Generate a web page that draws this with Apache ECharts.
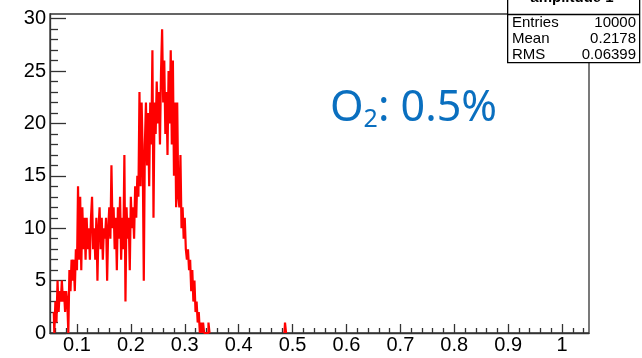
<!DOCTYPE html>
<html>
<head>
<meta charset="utf-8">
<script src="https://cdn.jsdelivr.net/npm/echarts@6/dist/echarts.min.js"></script>
<style>
  html, body { margin: 0; padding: 0; background: #fff; }
  #chart { width: 642px; height: 358px; }
</style>
</head>
<body>
<div id="chart"></div>
<script>
// histogram "amplitude 1": bin centres start at firstBin, one count per bin
var firstBin = 0.057;
var binWidth = 0.002;
var counts = [
  2, 0, 3, 1, 5, 2, 4, 3, 5, 3, 4, 2, 4, 3, 0, 6, 4, 7, 5, 7,
  4, 8, 6, 14, 7, 13, 6, 12, 8, 11, 7, 11, 8, 10, 7, 11, 13, 8, 10, 7,
  11, 5, 10, 12, 8, 11, 7, 10, 9, 11, 5, 10, 12, 9, 16, 10, 12, 8, 11, 6,
  12, 9, 13, 7, 11, 8, 17, 3, 12, 9, 11, 6, 13, 10, 12, 9, 14, 11, 15, 13,
  23, 14, 22, 17, 5, 18, 22, 16, 21, 14, 22, 18, 27, 11, 22, 19, 24, 20, 23, 18,
  25, 29, 22, 26, 19, 23, 17, 25, 20, 27, 18, 26, 15, 22, 12, 22, 13, 12, 17, 10,
  12, 9, 11, 8, 7, 8, 6, 7, 4, 6, 3, 5, 2, 3, 1, 2, 0, 1, 0, 1,
  0, 0, 0, 0, 1, 0
];
// lone entry far out in the tail
var tailBins = [0.485, 0.487, 0.489];
var tailCounts = [0, 1, 0];

var xMajor = [0.1, 0.2, 0.3, 0.4, 0.5, 0.6, 0.7, 0.8, 0.9, 1.0];
var yMajor = [0, 5, 10, 15, 20, 25, 30];

var statNames = ['Entries', 'Mean', 'RMS'];
var statValues = ['10000', '0.2178', '0.06399'];

// minor ticks
var xMinor = [];
for (var i = 3; i <= 52; i++) {
  if (i % 5 !== 0) xMinor.push(Math.round(i * 2) / 100);
}
var yMinor = [];
for (var j = 1; j < 30; j++) {
  if (j % 5 !== 0) yMinor.push(j);
}

var histData = counts.map(function (c, i) {
  return [firstBin + i * binWidth, c];
});
histData.push(null);
tailBins.forEach(function (b, i) {
  histData.push([b, tailCounts[i]]);
});

var axisColor = '#333';
var labelFont = { fontFamily: 'Liberation Sans', fontSize: 20, color: '#000' };
var statFont = '15px "Liberation Sans"';

var statsGraphic = [
  {
    type: 'rect', left: 507, top: -2,
    shape: { width: 132, height: 64 },
    style: { fill: '#fff', stroke: '#000', lineWidth: 1.3 }
  },
  {
    type: 'line', shape: { x1: 507, y1: 14.5, x2: 639, y2: 14.5 },
    style: { stroke: '#000', lineWidth: 1.3 }
  },
  {
    // title of the stats box, cut by the top of the picture
    type: 'text', x: 572, y: 5,
    style: {
      text: 'amplitude 1', font: 'bold 15px "Liberation Sans"',
      fill: '#000', align: 'center', verticalAlign: 'bottom'
    }
  }
];
statNames.forEach(function (n, k) {
  statsGraphic.push({
    type: 'text', x: 512, y: 23 + k * 16,
    style: { text: n, font: statFont, fill: '#000', verticalAlign: 'middle' }
  });
  statsGraphic.push({
    type: 'text', x: 636, y: 23 + k * 16,
    style: { text: statValues[k], font: statFont, fill: '#000', align: 'right', verticalAlign: 'middle' }
  });
});

statsGraphic.push({
  type: 'text', x: 330, y: 86,
  style: {
    text: '{a|O}{b|2}{a|: 0.5%}',
    fill: '#0a6fbf',
    rich: {
      a: { fontFamily: 'Noto Sans', fontSize: 43, lineHeight: 46, color: '#0a6fbf' },
      b: { fontFamily: 'Noto Sans', fontSize: 25, lineHeight: 12, color: '#0a6fbf', verticalAlign: 'bottom' }
    }
  }
});

var chart = echarts.init(document.getElementById('chart'), null, { renderer: 'canvas' });
chart.setOption({
  animation: false,
  grid: {
    left: 50, right: 53, top: 14, bottom: 25,
    show: true, borderColor: axisColor, borderWidth: 1.3, backgroundColor: '#fff'
  },
  xAxis: [
    {
      type: 'value', min: 0.05, max: 1.05,
      axisLine: { show: true, onZero: false, lineStyle: { color: axisColor, width: 1.3 } },
      axisTick: { show: true, inside: true, length: 9, customValues: xMajor, lineStyle: { color: axisColor, width: 1.3 } },
      axisLabel: {
        show: true, margin: 2, customValues: xMajor,
        formatter: function (v) { return String(Math.round(v * 10) / 10); },
        fontFamily: labelFont.fontFamily, fontSize: labelFont.fontSize, color: labelFont.color
      },
      splitLine: { show: false }
    },
    {
      type: 'value', min: 0.05, max: 1.05, position: 'bottom',
      axisLine: { show: false },
      axisTick: { show: true, inside: true, length: 5, customValues: xMinor, lineStyle: { color: axisColor, width: 1.3 } },
      axisLabel: { show: false },
      splitLine: { show: false }
    }
  ],
  yAxis: [
    {
      type: 'value', min: 0, max: 30.45,
      axisLine: { show: true, onZero: false, lineStyle: { color: axisColor, width: 1.3 } },
      axisTick: { show: true, inside: true, length: 16, customValues: yMajor, lineStyle: { color: axisColor, width: 1.3 } },
      axisLabel: {
        show: true, margin: 4, customValues: yMajor,
        fontFamily: labelFont.fontFamily, fontSize: labelFont.fontSize, color: labelFont.color
      },
      splitLine: { show: false }
    },
    {
      type: 'value', min: 0, max: 30.45, position: 'left',
      axisLine: { show: false },
      axisTick: { show: true, inside: true, length: 8, customValues: yMinor, lineStyle: { color: axisColor, width: 1.3 } },
      axisLabel: { show: false },
      splitLine: { show: false }
    }
  ],
  series: [
    {
      type: 'line',
      name: 'amplitude 1',
      xAxisIndex: 0, yAxisIndex: 0,
      step: 'middle',
      symbol: 'none',
      data: histData,
      lineStyle: { color: '#ff0000', width: 2.2 },
      z: 3
    }
  ],
  graphic: statsGraphic
});
</script>
</body>
</html>
